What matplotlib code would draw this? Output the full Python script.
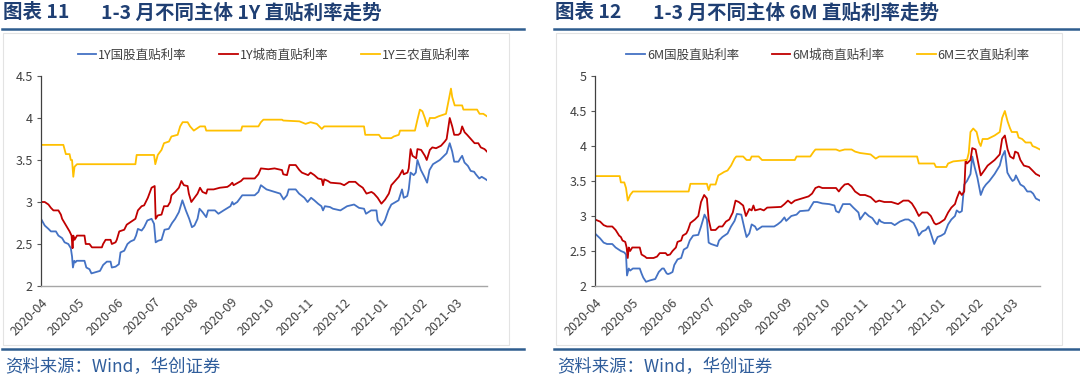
import matplotlib.pyplot as plt
from matplotlib.patches import Rectangle
from matplotlib.lines import Line2D
import pandas as pd

plt.rcParams['font.family'] = ['Noto Sans CJK SC', 'DejaVu Sans']

START = pd.Timestamp('2020-04-01')

# ---- 1Y chart (x = days since 2020-04-01) ----
d1_gg = [0, 3, 6, 8, 12, 14, 17, 19, 22, 24, 25, 25.7, 26.8, 27.6, 28.7, 35, 36.5, 39, 40.6, 43, 47.5, 50, 53, 56, 57, 60,
         62.7, 64, 67, 69.6, 72, 75, 76.5, 78, 81, 83, 85.6, 89, 91, 92.3, 94.5, 97, 99.4, 102.8, 105.5, 108, 111, 113.8,
         116.6, 119.3, 121.5, 123.5, 126, 127.6, 130, 133, 134.5, 140, 142.8, 147, 152.5, 154, 155, 158, 162, 172, 175,
         177, 181.5, 188, 192.5, 195.3, 198, 199.4, 205, 207.7, 212, 214.6, 217.4, 220, 223, 225.7, 227, 228.5, 232.6,
         235, 241, 246.4, 252, 256, 260, 261.6, 265.7, 270, 271, 274, 276.8, 279.6, 282, 287.8, 290.6, 292, 294.8, 296,
         297.5, 300, 301.7, 303, 305.8, 308.6, 310.8, 312.7, 315.5, 321, 326.5, 329, 331, 332.6, 336, 337.6, 339, 340.9,
         343.6, 345.9, 348.6, 350, 352.8, 354.7, 357, 359]
v1_gg = [2.80, 2.72, 2.68, 2.65, 2.65, 2.60, 2.57, 2.52, 2.50, 2.45, 2.35, 2.22, 2.30, 2.28, 2.30, 2.30, 2.22, 2.20, 2.15,
         2.16, 2.18, 2.25, 2.29, 2.29, 2.22, 2.23, 2.26, 2.40, 2.42, 2.50, 2.53, 2.55, 2.60, 2.68, 2.66, 2.70, 2.78, 2.80,
         2.74, 2.52, 2.54, 2.55, 2.67, 2.68, 2.75, 2.80, 2.88, 3.02, 2.90, 2.80, 2.70, 2.72, 2.80, 2.92, 2.88, 2.82, 2.90,
         2.90, 2.86, 2.90, 2.95, 3.00, 2.97, 3.00, 3.08, 3.08, 3.12, 3.20, 3.15, 3.12, 3.10, 3.03, 3.08, 3.15, 3.15, 3.10,
         3.05, 3.00, 3.05, 3.02, 2.98, 2.95, 2.90, 2.95, 2.94, 2.92, 2.90, 2.95, 2.97, 2.93, 2.92, 2.86, 2.90, 2.90, 2.78,
         2.72, 2.78, 2.90, 2.97, 3.02, 3.15, 3.05, 3.07, 3.15, 3.35, 3.32, 3.35, 3.50, 3.38, 3.30, 3.23, 3.38, 3.45, 3.50,
         3.58, 3.70, 3.60, 3.48, 3.48, 3.52, 3.55, 3.47, 3.43, 3.37, 3.36, 3.33, 3.28, 3.30, 3.28, 3.26]

d1_cs = [0, 3, 6, 8, 10, 14, 16, 17, 19, 21, 23, 24.6, 25.4, 26, 27, 29, 35, 36, 39, 41, 49, 50, 52, 56, 57, 60, 61, 63,
         67, 69, 73, 76, 78, 81, 83, 86, 89, 91.5, 92.3, 94, 97, 99, 102, 104, 105, 108, 111, 113, 115, 118, 119, 121,
         123, 126, 128, 130, 133, 134, 139, 144, 150, 152, 154, 155, 161, 163, 172, 175, 177, 183, 188, 194, 195, 198,
         200, 205, 208, 210, 215, 217, 220, 223, 226, 227, 228, 231, 233, 241, 244, 248, 253, 256, 259, 262, 266, 268,
         271, 274, 277, 280, 282, 285, 288, 291, 292, 295, 296, 297.5, 299, 302, 303, 306, 309, 310.5, 313, 315, 318,
         322, 325, 326.5, 328, 329, 331, 332.6, 336, 337.6, 339, 341, 343, 346, 349, 352, 354, 357, 359]
v1_cs = [3.00, 3.00, 2.97, 2.93, 2.90, 2.90, 2.85, 2.80, 2.75, 2.70, 2.65, 2.60, 2.45, 2.60, 2.55, 2.60, 2.60, 2.50, 2.50,
         2.46, 2.46, 2.50, 2.55, 2.55, 2.50, 2.52, 2.55, 2.65, 2.67, 2.73, 2.77, 2.80, 2.90, 2.95, 2.96, 3.05, 3.17, 3.19,
         2.80, 2.84, 2.85, 2.95, 2.95, 3.00, 3.08, 3.12, 3.17, 3.25, 3.20, 3.19, 3.10, 3.00, 3.04, 3.10, 3.17, 3.12, 3.10,
         3.15, 3.15, 3.17, 3.18, 3.20, 3.23, 3.20, 3.25, 3.28, 3.28, 3.33, 3.40, 3.39, 3.40, 3.38, 3.33, 3.32, 3.44, 3.44,
         3.38, 3.35, 3.32, 3.35, 3.32, 3.28, 3.27, 3.20, 3.27, 3.25, 3.23, 3.22, 3.20, 3.24, 3.24, 3.20, 3.17, 3.10, 3.12,
         3.10, 3.05, 2.98, 3.03, 3.10, 3.20, 3.25, 3.30, 3.38, 3.33, 3.35, 3.40, 3.63, 3.55, 3.52, 3.63, 3.62, 3.55, 3.50,
         3.62, 3.65, 3.64, 3.67, 3.72, 3.75, 3.90, 4.00, 3.90, 3.80, 3.80, 3.82, 3.90, 3.83, 3.80, 3.75, 3.70, 3.70, 3.65,
         3.63, 3.60]

d1_sn = [0, 18, 20, 23, 24, 25, 26, 27, 29, 76, 77, 91, 92, 94, 97, 99, 103, 105, 110, 112, 114, 118, 120, 123, 126, 128,
         132, 133, 161, 162, 175, 177, 179, 194, 195, 208, 213, 217, 222, 226, 228, 260, 261, 272, 274, 282, 284, 288,
         289, 301, 303, 305, 307, 309, 311, 313, 317, 320, 324, 326, 328, 330, 331, 333, 339, 340, 351, 353, 356, 359]
v1_sn = [3.68, 3.68, 3.57, 3.57, 3.50, 3.50, 3.30, 3.42, 3.45, 3.45, 3.56, 3.56, 3.45, 3.56, 3.62, 3.70, 3.72, 3.78, 3.80,
         3.90, 3.95, 3.95, 3.90, 3.85, 3.88, 3.90, 3.90, 3.85, 3.85, 3.90, 3.90, 3.95, 3.98, 3.98, 3.97, 3.96, 3.93, 3.95,
         3.93, 3.87, 3.90, 3.90, 3.80, 3.80, 3.76, 3.76, 3.78, 3.80, 3.85, 3.85, 3.98, 4.10, 4.08, 4.00, 3.90, 4.00, 4.00,
         4.02, 4.04, 4.05, 4.20, 4.35, 4.25, 4.15, 4.15, 4.10, 4.10, 4.05, 4.05, 4.02]

# ---- 6M chart ----
d6_gg = [0, 4.1, 6.9, 9.6, 13.8, 16.5, 20.7, 23.4, 24.8, 25.6, 27, 28.1, 30.3, 35.8, 37.2, 38.6, 40.8, 44, 48.2, 51,
         53.7, 55, 57.3, 58.4, 60, 62, 63.4, 66, 68.9, 71, 73.8, 75.8, 78.5, 82.6, 84.8, 87.6, 89.5, 90.9, 92.8, 97.8,
         99.2, 101.9, 106, 108.8, 111.6, 113.5, 117, 119.8, 121.2, 123.4, 125.3, 128, 129.5, 133.6, 143.3, 146, 148.8,
         151.5, 152.9, 157, 161.2, 163.9, 170.8, 172.2, 174.9, 177.7, 181.8, 187.3, 191.5, 192.8, 195, 198.3, 203.9,
         206.6, 210.7, 212, 216, 219, 221.8, 224.5, 225.9, 227.3, 228.7, 231.4, 237, 239.7, 243.8, 248, 250.7, 254.8,
         257.6, 259, 261.7, 264.5, 266.7, 268.6, 271.3, 274, 276.9, 279.6, 282.4, 285, 287.9, 289.3, 291.5, 293.4, 295.3,
         297.5, 300.3, 301.7, 303.6, 305.8, 308.5, 310.7, 312.7, 315.4, 319.6, 323.7, 325.6, 327.8, 329.8, 332, 333.9,
         335.5, 336.6, 338.3, 340.2, 343, 345.7, 348.5, 350.4, 352.6, 355.9]
v6_gg = [2.75, 2.68, 2.62, 2.60, 2.60, 2.55, 2.50, 2.48, 2.45, 2.15, 2.25, 2.22, 2.25, 2.25, 2.18, 2.12, 2.06, 2.08, 2.10,
         2.20, 2.25, 2.25, 2.18, 2.17, 2.18, 2.20, 2.30, 2.38, 2.40, 2.52, 2.55, 2.65, 2.72, 2.73, 2.85, 3.02, 2.95, 2.62,
         2.60, 2.57, 2.65, 2.70, 2.75, 2.85, 2.93, 3.03, 3.02, 2.80, 2.70, 2.75, 2.88, 2.85, 2.80, 2.85, 2.85, 2.88, 2.92,
         2.98, 2.93, 3.00, 3.02, 3.07, 3.08, 3.12, 3.20, 3.20, 3.18, 3.17, 3.15, 3.07, 3.05, 3.17, 3.17, 3.12, 3.05, 2.95,
         3.05, 3.00, 2.97, 2.90, 2.88, 2.95, 2.92, 2.90, 2.90, 2.87, 2.92, 2.95, 2.95, 2.90, 2.80, 2.72, 2.78, 2.80, 2.85,
         2.75, 2.60, 2.70, 2.72, 2.75, 2.88, 2.95, 3.00, 3.08, 3.05, 3.07, 3.45, 3.50, 3.60, 3.85, 3.70, 3.55, 3.30, 3.40,
         3.45, 3.50, 3.60, 3.72, 3.85, 3.93, 3.62, 3.55, 3.50, 3.52, 3.58, 3.52, 3.45, 3.42, 3.35, 3.35, 3.32, 3.25, 3.22]

d6_cs = [0, 4.1, 6.9, 9.6, 13.8, 16.5, 19.3, 20.7, 22, 24.2, 25.3, 26.2, 27, 28.1, 29.8, 35.8, 37.2, 40, 41.3, 46.8, 49.6,
         51.8, 56.5, 57.9, 60, 62, 64.7, 66, 68.9, 70.2, 73, 74.4, 76.3, 79.9, 82.6, 84.8, 87.3, 89.5, 90.9, 92.8, 96.4,
         99.2, 101.9, 104.7, 107.4, 110.2, 112.4, 115, 118.5, 120.7, 123.4, 125.3, 126.7, 128, 132.2, 135, 137.7, 148.8,
         151.5, 154.3, 157, 159.8, 165.3, 170.8, 173.6, 176.3, 179, 181.8, 192.8, 195, 197, 199.7, 202.5, 205.2, 208,
         212, 216, 220.4, 224.5, 227.3, 231.4, 237, 242.4, 246.6, 250.7, 253.4, 256.2, 259, 261.7, 265.8, 268.6, 271.3,
         272.7, 275.5, 279.6, 282.4, 285, 287.9, 289.3, 291.5, 293.4, 295.3, 296.4, 297.5, 300.3, 301.7, 304.4, 306.6,
         308.5, 311.3, 314, 319.6, 323.7, 325.6, 327.8, 330, 332, 334.7, 336, 338.3, 340.2, 343, 347.1, 349.9, 352.6,
         355.9]
v6_cs = [2.95, 2.92, 2.87, 2.85, 2.85, 2.80, 2.72, 2.70, 2.65, 2.63, 2.55, 2.40, 2.55, 2.50, 2.55, 2.55, 2.45, 2.42, 2.40,
         2.40, 2.42, 2.47, 2.47, 2.44, 2.45, 2.50, 2.55, 2.63, 2.65, 2.72, 2.75, 2.80, 2.90, 2.95, 3.00, 3.20, 3.30, 3.25,
         2.95, 2.80, 2.80, 2.85, 2.85, 2.92, 2.95, 3.05, 3.22, 3.20, 3.15, 3.00, 3.10, 3.08, 3.15, 3.08, 3.10, 3.08, 3.12,
         3.13, 3.17, 3.22, 3.18, 3.22, 3.25, 3.28, 3.32, 3.40, 3.42, 3.40, 3.40, 3.35, 3.40, 3.45, 3.46, 3.42, 3.35, 3.30,
         3.30, 3.27, 3.20, 3.22, 3.20, 3.20, 3.17, 3.22, 3.22, 3.18, 3.10, 3.00, 3.05, 3.05, 3.00, 2.90, 2.88, 2.90, 2.95,
         3.05, 3.12, 3.17, 3.25, 3.35, 3.30, 3.35, 3.80, 3.75, 3.80, 3.97, 3.95, 3.75, 3.58, 3.65, 3.72, 3.80, 3.88, 4.10,
         4.15, 3.95, 3.85, 3.82, 3.92, 3.90, 3.80, 3.72, 3.70, 3.65, 3.60, 3.57]

d6_sn = [0, 19.8, 20.7, 23.4, 24.8, 26.2, 28.1, 30.3, 74.9, 76.3, 89.5, 90.9, 92.3, 96.4, 98.6, 100.6, 103.3, 106, 108.8,
         111.6, 113, 118.5, 121.2, 124, 125.3, 130.9, 133.6, 159.8, 161.2, 172.2, 174.9, 176.3, 192.8, 195.6, 199.7,
         205.2, 208, 212, 220.4, 224.5, 227.3, 257.6, 259, 271.3, 272.7, 281, 282.4, 286.5, 297.5, 298.9, 300.3, 302.5,
         305.2, 307.2, 308.5, 310, 314, 319.6, 323.7, 325.6, 327.8, 330, 332, 333.3, 337.5, 338.8, 341.6, 344.4, 348.5,
         349.9, 352.6, 355.9]
v6_sn = [3.57, 3.57, 3.48, 3.48, 3.40, 3.22, 3.30, 3.35, 3.35, 3.46, 3.46, 3.37, 3.45, 3.45, 3.58, 3.60, 3.63, 3.65, 3.72,
         3.82, 3.85, 3.85, 3.80, 3.80, 3.85, 3.85, 3.80, 3.80, 3.85, 3.85, 3.92, 3.95, 3.95, 3.93, 3.95, 3.95, 3.92, 3.90,
         3.88, 3.82, 3.85, 3.85, 3.75, 3.75, 3.70, 3.70, 3.75, 3.78, 3.80, 3.90, 4.20, 4.25, 4.20, 4.05, 4.00, 4.10, 4.10,
         4.15, 4.20, 4.40, 4.50, 4.35, 4.25, 4.20, 4.20, 4.12, 4.10, 4.05, 4.05, 4.00, 3.98, 3.95]

month_ticks = pd.date_range('2020-04-01', '2021-03-01', freq='MS')
month_labels = [d.strftime('%Y-%m') for d in month_ticks]

BLUE, RED, GOLD = '#4472C4', '#C00000', '#FFC000'
TITLE_C = '#1F3F73'
SRC_C = '#2F5D9B'
W, H = 1080, 376


def to_dates(days):
    return START + pd.to_timedelta(days, unit='D')


def fx(px):
    return px / W


def fy(py):
    return 1 - py / H


fig = plt.figure(figsize=(10.8, 3.76), dpi=100)

panels = [
    dict(x0=2, x1=524, box=(3, 509), ax=(41, 487), ylim=(2, 4.5), yt=[2, 2.5, 3, 3.5, 4, 4.5],
         yl=['2', '2.5', '3', '3.5', '4', '4.5'], tenor='1Y', num='11', leg_x=274,
         series=[(d1_gg, v1_gg, BLUE, '国股'), (d1_cs, v1_cs, RED, '城商'), (d1_sn, v1_sn, GOLD, '三农')]),
    dict(x0=554, x1=1080, box=(556, 1062), ax=(595, 1040), ylim=(2, 5), yt=[2, 2.5, 3, 3.5, 4, 4.5, 5],
         yl=['2', '2.5', '3', '3.5', '4', '4.5', '5'], tenor='6M', num='12', leg_x=828,
         series=[(d6_gg, v6_gg, BLUE, '国股'), (d6_cs, v6_cs, RED, '城商'), (d6_sn, v6_sn, GOLD, '三农')]),
]

for p in panels:
    # title and rules
    fig.text(fx(p['x0'] + 1), fy(13), f"图表 {p['num']}", fontsize=14, fontweight='bold',
             color=TITLE_C, va='center', ha='left')
    fig.text(fx(p['x0'] + 99), fy(13), f"1-3 月不同主体 {p['tenor']} 直贴利率走势", fontsize=14,
             fontweight='bold', color=TITLE_C, va='center', ha='left')
    fig.add_artist(Line2D([fx(p['x0']), fx(p['x1'])], [fy(29), fy(29)], color='#2F5D8F', lw=1.8))
    fig.add_artist(Line2D([fx(p['x0']), fx(p['x1'])], [fy(349), fy(349)], color='#2F5D8F', lw=1.8))
    fig.add_artist(Rectangle((fx(p['box'][0]), fy(345)), fx(p['box'][1] - p['box'][0]), (345 - 33) / H,
                             transform=fig.transFigure, fill=False, ec='#E3E3E3', lw=0.8))
    fig.text(fx(p['x0'] + 3), fy(367), '资料来源：Wind，华创证券', fontsize=12.5, color=SRC_C,
             va='center', ha='left', style='italic')

    ax = fig.add_axes([fx(p['ax'][0]), fy(286), fx(p['ax'][1] - p['ax'][0]), (286 - 76) / H])
    handles = []
    for d, v, c, name in p['series']:
        h, = ax.plot(to_dates(d), v, color=c, lw=1.3, label=f"{p['tenor']}{name}直贴利率")
        handles.append(h)
    last = max(max(s[0]) for s in p['series'])
    ax.set_xlim(START, to_dates([last])[0])
    ax.set_ylim(*p['ylim'])
    ax.set_yticks(p['yt'])
    ax.set_yticklabels(p['yl'])
    ax.set_xticks(month_ticks)
    ax.set_xticklabels(month_labels, rotation=45, ha='right', rotation_mode='anchor')
    ax.tick_params(axis='x', length=0, pad=7, labelsize=9, labelcolor='#404040')
    ax.tick_params(axis='y', length=3, width=0.8, color='#595959', pad=3, labelsize=9, labelcolor='#404040')
    for s in ['top', 'right']:
        ax.spines[s].set_visible(False)
    ax.spines['left'].set_color('#404040')
    ax.spines['bottom'].set_color('#A6A6A6')
    ax.spines['left'].set_linewidth(0.9)
    ax.spines['bottom'].set_linewidth(1.0)
    ax.patch.set_alpha(0)

    fig.legend(handles=handles, loc='center', bbox_to_anchor=(fx(p['leg_x']), fy(55)), ncol=3, frameon=False,
               fontsize=9, handlelength=1.5, handletextpad=0.15, columnspacing=2.6, labelcolor='#404040')

fig.savefig('out.png', dpi=100)
